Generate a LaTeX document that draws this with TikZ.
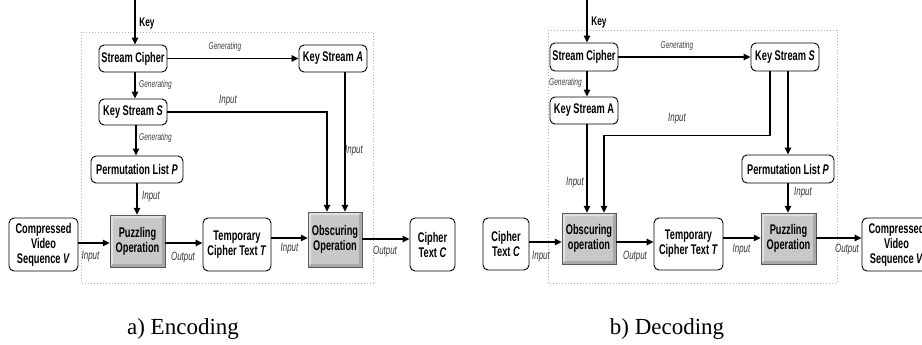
\documentclass[tikz,border=0pt]{standalone}
\usepackage{fontspec}
\setmainfont{Liberation Serif}
\newfontfamily\bx[FakeStretch=0.66]{Liberation Sans}
\usetikzlibrary{arrows.meta}
\definecolor{opfill}{HTML}{C8C8C8}
\definecolor{oplight}{HTML}{E0E0E0}
\definecolor{opdark}{HTML}{A8A8A8}
\definecolor{framec}{HTML}{B0B0B0}
\tikzset{
  wbox/.style={draw=black, line width=0.9pt, rounded corners=5pt, fill=white,
    align=center, inner sep=0pt, font=\bx\bfseries\fontsize{14}{15}\selectfont},
  gbox/.style={draw=gray!70!black, line width=0.5pt, fill=opfill,
    align=center, inner sep=0pt, font=\bx\bfseries\fontsize{14}{15}\selectfont,
    path picture={
      \fill[oplight] (path picture bounding box.north west) -- (path picture bounding box.north east)
        -- ([xshift=-3pt,yshift=-3pt]path picture bounding box.north east)
        -- ([xshift=3pt,yshift=-3pt]path picture bounding box.north west) -- cycle;
      \fill[oplight] (path picture bounding box.north west) -- ([xshift=3pt,yshift=-3pt]path picture bounding box.north west)
        -- ([xshift=3pt,yshift=3pt]path picture bounding box.south west)
        -- (path picture bounding box.south west) -- cycle;
      \fill[opdark] (path picture bounding box.south west) -- (path picture bounding box.south east)
        -- ([xshift=-3pt,yshift=3pt]path picture bounding box.south east)
        -- ([xshift=3pt,yshift=3pt]path picture bounding box.south west) -- cycle;
      \fill[opdark] (path picture bounding box.north east) -- (path picture bounding box.south east)
        -- ([xshift=-3pt,yshift=3pt]path picture bounding box.south east)
        -- ([xshift=-3pt,yshift=-3pt]path picture bounding box.north east) -- cycle;
    }},
  arr/.style={line width=1.5pt, -{Triangle[length=7pt,width=6.5pt]}},
  lbl/.style={font=\bx\itshape\fontsize{12}{13}\selectfont, text=black!80, inner sep=0pt},
  glbl/.style={font=\bx\itshape\fontsize{10}{11}\selectfont, text=black!75, inner sep=0pt},
  keylbl/.style={font=\bx\bfseries\fontsize{12.5}{14}\selectfont, inner sep=0pt},
  dotframe/.style={draw=framec, line width=0.7pt, dash pattern=on 0.8pt off 2.2pt},
  captxt/.style={font=\fontsize{23}{26}\selectfont, inner sep=0pt}
}
\begin{document}
\begin{tikzpicture}[x=1pt,y=-1pt]
\useasboundingbox (0,0) rectangle (922,345);
\fill[white] (0,0) rectangle (922,345);

% ---------------- Encoding ----------------
\draw[dotframe] (81,32) rectangle (373,283);
\node[wbox, minimum width=68pt, minimum height=27pt] (sc1) at (133,58.5) {Stream Cipher};
\node[wbox, minimum width=68pt, minimum height=27pt] (ksa1) at (333,58.5) {Key Stream \textit{A}};
\node[wbox, minimum width=68pt, minimum height=26pt] (kss1) at (133,112) {Key Stream \textit{S}};
\node[wbox, minimum width=92pt, minimum height=27pt] (plp1) at (137,169.5) {Permutation List \textit{P}};
\node[gbox, minimum width=55pt, minimum height=52pt] (puz1) at (137.5,241) {Puzzling\\Operation};
\node[wbox, minimum width=69pt, minimum height=53pt] (cvs1) at (43.5,244.5) {Compressed\\Video\\Sequence \textit{V}};
\node[wbox, minimum width=68pt, minimum height=53pt] (tct1) at (237,244.5) {Temporary\\Cipher Text \textit{T}};
\node[gbox, minimum width=54pt, minimum height=55pt] (obs1) at (335,239.5) {Obscuring\\Operation};
\node[wbox, minimum width=45pt, minimum height=53pt] (ct1) at (432.5,244.5) {Cipher\\Text \textit{C}};

\coordinate (k1) at (135,0);
\draw[arr] (k1) -- ([xshift=2pt]sc1.north);
\node[keylbl] (klbl1) at (147,23) {Key};
\draw[arr] (sc1.east) -- (ksa1.west);
\node[glbl] (g1) at (225,47) {Generating};
\draw[arr] ([xshift=2pt]sc1.south) -- ([xshift=2pt]kss1.north);
\node[glbl] (g2) at (155.5,85) {Generating};
\draw[arr] ([xshift=3pt]kss1.south) -- ([xshift=-1pt]plp1.north);
\node[glbl] (g3) at (155.5,138) {Generating};
\draw[arr] (kss1.east) -| ([xshift=-8pt]obs1.north);
\node[lbl] (i1) at (228,101) {Input};
\draw[arr] ([xshift=12pt]ksa1.south) -- ([xshift=10pt]obs1.north);
\node[lbl] (i2) at (354,151) {Input};
\draw[arr] (plp1.south) -- ([xshift=-0.5pt]puz1.north);
\node[lbl] (i3) at (151,197) {Input};
\draw[arr] ([yshift=1.5pt]cvs1.east) -- ([yshift=-2pt]puz1.west);
\node[lbl] (i4) at (90.5,257) {Input};
\draw[arr] ([yshift=-2pt]puz1.east) -- ([yshift=1.5pt]tct1.west);
\node[lbl] (o1) at (183,258) {Output};
\draw[arr] ([yshift=6.5pt]tct1.east) -- ([yshift=1.5pt]obs1.west);
\node[lbl] (i5) at (289.5,249) {Input};
\draw[arr] ([yshift=0.5pt]obs1.east) -- ([yshift=5.5pt]ct1.west);
\node[lbl] (o2) at (385,252) {Output};
\node[captxt] (capa) at (183,329) {a) Encoding};

% ---------------- Decoding ----------------
\draw[dotframe] (548,30) rectangle (837,283);
\node[wbox, minimum width=68pt, minimum height=28pt] (sc2) at (584,57) {Stream Cipher};
\node[wbox, minimum width=68pt, minimum height=28pt] (kss2) at (785,57) {Key Stream \textit{S}};
\node[wbox, minimum width=68pt, minimum height=27pt] (ksa2) at (584,110.5) {Key Stream A};
\node[wbox, minimum width=92pt, minimum height=28pt] (plp2) at (788,169) {Permutation List \textit{P}};
\node[wbox, minimum width=46pt, minimum height=52pt] (ct2) at (506,244) {Cipher\\Text \textit{C}};
\node[gbox, minimum width=54pt, minimum height=51pt] (obs2) at (589,238.5) {Obscuring\\operation};
\node[wbox, minimum width=69pt, minimum height=52pt] (tct2) at (688.5,244) {Temporary\\Cipher Text \textit{T}};
\node[gbox, minimum width=55pt, minimum height=51pt] (puz2) at (788.5,238.5) {Puzzling\\Operation};
\node[wbox, minimum width=69pt, minimum height=53pt] (cvs2) at (896.5,244.5) {Compressed\\Video\\Sequence \textit{V}};

\coordinate (k2) at (587,0);
\draw[arr] (k2) -- ([xshift=3pt]sc2.north);
\node[keylbl] (klbl2) at (599,22) {Key};
\draw[arr] (sc2.east) -- (kss2.west);
\node[glbl] (g4) at (677,46) {Generating};
\draw[arr] ([xshift=3pt]sc2.south) -- ([xshift=3pt]ksa2.north);
\node[glbl] (g5) at (565.5,83) {Generating};
\draw[arr] ([xshift=3pt]ksa2.south) -- ([xshift=-2pt]obs2.north);
\node[lbl] (i6) at (575,183) {Input};
\draw[arr] ([xshift=-15pt]kss2.south) -- ++(0,64) -| ([xshift=15pt]obs2.north);
\node[lbl] (i7) at (677,119) {Input};
\draw[arr] ([xshift=3pt]kss2.south) -- (plp2.north);
\draw[arr] (plp2.south) -- ([xshift=-0.5pt]puz2.north);
\node[lbl] (i8) at (803,193) {Input};
\draw[arr] ([yshift=2pt]ct2.east) -- ([yshift=-3.5pt]obs2.west);
\node[lbl] (i9) at (541,257) {Input};
\draw[arr] ([yshift=-3.5pt]obs2.east) -- ([yshift=2pt]tct2.west);
\node[lbl] (o3) at (635,257) {Output};
\draw[arr] ([yshift=6pt]tct2.east) -- ([yshift=0.5pt]puz2.west);
\node[lbl] (i10) at (741.5,250) {Input};
\draw[arr] ([yshift=0.5pt]puz2.east) -- ([yshift=6.5pt]cvs2.west);
\node[lbl] (o4) at (847,250) {Output};
\node[captxt] (capb) at (667,329) {b) Decoding};
\end{tikzpicture}
\end{document}
